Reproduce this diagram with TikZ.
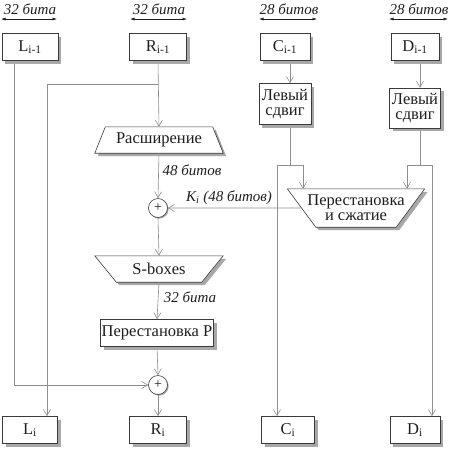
\documentclass[tikz,border=0pt]{standalone}
\usepackage{fontspec}
\setmainfont{Liberation Serif}
\usetikzlibrary{arrows.meta,calc,backgrounds}
\definecolor{linegray}{HTML}{8E8E8E}
\definecolor{boxborder}{HTML}{3A3A3A}
\definecolor{shadowgray}{HTML}{A8A8A8}
\definecolor{txt}{HTML}{1E1E1E}
\newcommand{\boxfont}{\fontsize{16.5}{18}\selectfont}
\newcommand{\labfont}{\fontsize{15}{16}\selectfont\itshape}
\begin{document}
\begin{tikzpicture}[x=1pt,y=-1pt,
  line/.style={draw=linegray, line width=0.6pt},
  arr/.style={line, -{Straight Barb[length=6pt,width=7pt]}},
  dim/.style={draw=txt, line width=0.6pt, {Latex[length=4.5pt,width=3pt]}-{Latex[length=4.5pt,width=3pt]}},
  lab/.style={font=\labfont, text=txt, inner sep=0pt},
  shad/.style={preaction={fill=shadowgray, transform canvas={xshift=#1,yshift=-#1}}},
  box/.style={draw=boxborder, fill=white, line width=0.6pt, inner sep=0pt, text=txt, font=\boxfont, align=center, shad=3pt},
  tz/.style={inner sep=0pt, text=txt, font=\boxfont, align=center},
  poly/.style={draw=boxborder, fill=white, line width=0.6pt, shad=3pt},
  xor/.style={circle, draw=boxborder, fill=white, line width=0.6pt, minimum size=19pt, inner sep=0pt, text=txt,
    font=\fontsize{14}{14}\selectfont, shad=1.2pt}
]
\useasboundingbox (0,0) rectangle (450,448);

% top width labels
\node[lab] (t1) at (30,9) {32 бита};
\node[lab] (t2) at (159,9) {32 бита};
\node[lab] (t3) at (289,9) {28 битов};
\node[lab] (t4) at (419,9) {28 битов};
\coordinate (t1l) at (1,19); \coordinate (t1r) at (57,19);
\coordinate (t2l) at (130,19); \coordinate (t2r) at (187,19);
\coordinate (t3l) at (259,19); \coordinate (t3r) at (317,19);
\coordinate (t4l) at (389,19); \coordinate (t4r) at (448,19);
\draw[dim] (t1l) -- (t1r);
\draw[dim] (t2l) -- (t2r);
\draw[dim] (t3l) -- (t3r);
\draw[dim] (t4l) -- (t4r);

% top boxes
\node[box, minimum width=56pt, minimum height=27pt] (L1) at (30,47) {L\textsubscript{i-1}};
\node[box, minimum width=57pt, minimum height=27pt] (R1) at (158,47) {R\textsubscript{i-1}};
\node[box, minimum width=50pt, minimum height=27pt] (C1) at (285,47) {C\textsubscript{i-1}};
\node[box, minimum width=48pt, minimum height=27pt] (D1) at (415,47) {D\textsubscript{i-1}};

% left shift boxes
\node[box, minimum width=52pt, minimum height=41pt] (Cs) at (285,104) {Левый\\[-3pt]сдвиг};
\node[box, minimum width=51pt, minimum height=40pt] (Ds) at (415,108) {Левый\\[-3pt]сдвиг};

% expansion
\node[tz, minimum width=128pt, minimum height=26pt] (exp) at (159,140) {Расширение};
\begin{scope}[on background layer]
\draw[poly] (exp.south west) -- (exp.south east) -- ([xshift=-10.5pt]exp.north east) -- ([xshift=10.5pt]exp.north west) -- cycle;
\end{scope}

% xor 1
\node[xor] (x1) at (158,208) {+};

% permutation & compression
\node[tz, minimum width=137pt, minimum height=38pt] (pc) at (356,208) {Перестановка\\[-3pt]и сжатие};
\begin{scope}[on background layer]
\draw[poly] (pc.north west) -- (pc.north east) -- ([xshift=-28.5pt]pc.south east) -- ([xshift=28.5pt]pc.south west) -- cycle;
\end{scope}
\coordinate (kin) at ($(pc.north west)!0.5!([xshift=28.5pt]pc.south west)$);

% S-boxes
\node[tz, minimum width=128pt, minimum height=26pt] (sb) at (159,269) {S-boxes};
\begin{scope}[on background layer]
\draw[poly] (sb.north west) -- (sb.north east) -- ([xshift=-21.5pt]sb.south east) -- ([xshift=21.5pt]sb.south west) -- cycle;
\end{scope}

% permutation P
\node[box, minimum width=113pt, minimum height=27pt] (pp) at (157,333) {Перестановка P};

% xor 2
\node[xor] (x2) at (158,385) {+};

% bottom boxes
\node[box, minimum width=55pt, minimum height=27pt] (L2) at (30,430) {L\textsubscript{i}};
\node[box, minimum width=57pt, minimum height=27pt] (R2) at (158,430) {R\textsubscript{i}};
\node[box, minimum width=53pt, minimum height=27pt] (C2) at (288,430) {C\textsubscript{i}};
\node[box, minimum width=50pt, minimum height=27pt] (D2) at (415,430) {D\textsubscript{i}};

% labels on lines
\node[lab] (l48) at (192,170) {48 битов};
\node[lab] (l32) at (190,297) {32 бита};
\node[lab] (lk) at (229,198) {K\textsubscript{i} (48 битов)};

% coordinates for junctions
\coordinate (j1) at (158,84);
\coordinate (lj) at (47,84);
\coordinate (cj) at (290,165);
\coordinate (cl) at (277,165);
\coordinate (cr) at (303,165);
\coordinate (dj) at (420,165);
\coordinate (dl) at (407,165);
\coordinate (dr) at (432,165);

% connectors
\begin{scope}[on background layer]
\draw[arr] (R1.south) -- (exp.north);
\draw[arr] (j1) -- (lj) -- (lj |- L2.north);
\draw[arr] ([xshift=-16pt]L1.south) |- (x2.west);
\draw[arr] (exp.south) -- (x1.north);
\draw[arr] (x1.south) -- (sb.north);
\draw[arr] (sb.south) -- (pp.north);
\draw[arr] (pp.south) -- (x2.north);
\draw[arr] (x2.south) -- (R2.north);
\draw[arr] (kin) -- (x1.east);
\draw[arr] ([xshift=5pt]C1.south) -- ([xshift=5pt]Cs.north);
\draw[arr] ([xshift=5pt]D1.south) -- ([xshift=5pt]Ds.north);
\draw[line] ([xshift=5pt]Cs.south) -- (cj);
\draw[line] ([xshift=5pt]Ds.south) -- (dj);
\draw[line] (cl) -- (cr);
\draw[line] (dl) -- (dr);
\draw[arr] (cr) -- (cr |- pc.north);
\draw[arr] (dl) -- (dl |- pc.north);
\draw[arr] (cl) -- (cl |- C2.north);
\draw[arr] (dr) -- (dr |- D2.north);
\end{scope}
\end{tikzpicture}
\end{document}
